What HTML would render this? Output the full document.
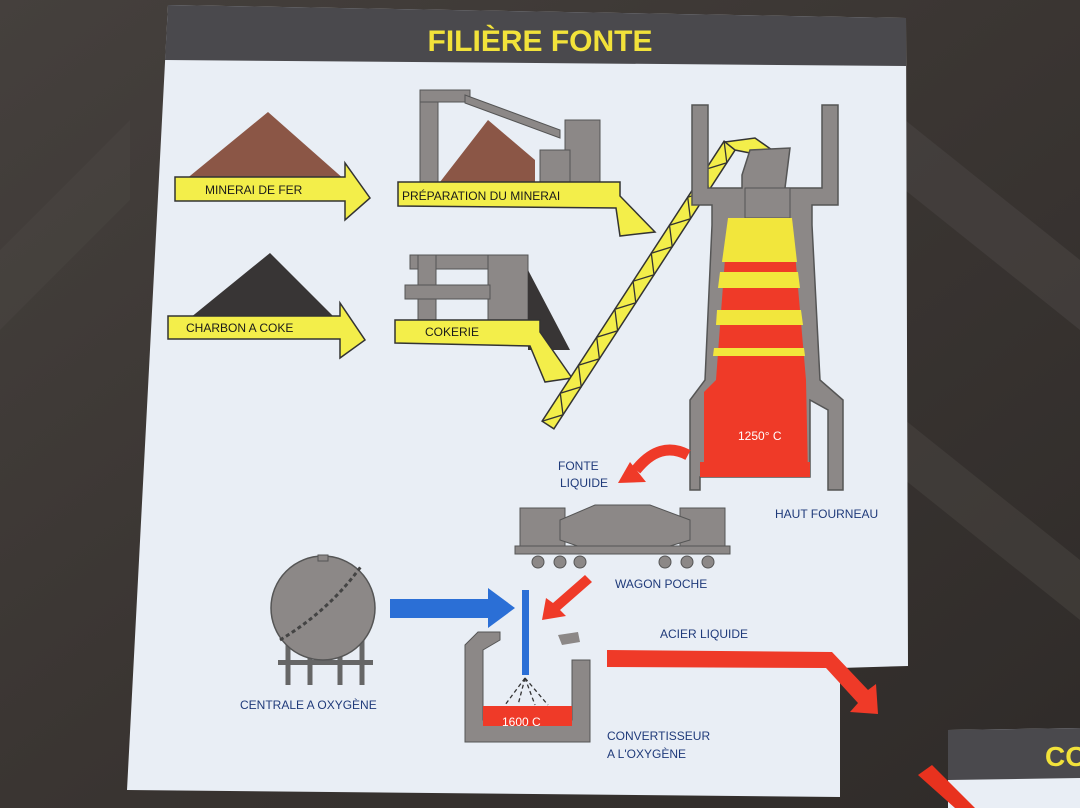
<!DOCTYPE html>
<html><head><meta charset="utf-8"><style>
html,body{margin:0;padding:0;background:#3b3735;}
svg{display:block}
text{font-family:"Liberation Sans",sans-serif;}
</style></head><body>
<svg width="1080" height="808" viewBox="0 0 1080 808" xmlns="http://www.w3.org/2000/svg">
<defs>
<linearGradient id="bg" x1="0" y1="0" x2="1" y2="1">
<stop offset="0" stop-color="#45403d"/><stop offset="0.5" stop-color="#3a3532"/><stop offset="1" stop-color="#2f2b29"/>
</linearGradient>
</defs>
<rect width="1080" height="808" fill="url(#bg)"/>
<path d="M905 120 L1080 260 L1080 330 L905 190 Z" fill="#4a4542" opacity="0.6"/>
<path d="M0 250 L130 120 L130 200 L0 330 Z" fill="#4a4542" opacity="0.5"/>
<path d="M905 420 L1080 560 L1080 620 L905 480 Z" fill="#4a4542" opacity="0.5"/>
<!-- panel -->
<polygon points="168,5 906,18 908,666 840,668 840,797 127,790" fill="#e9eef5"/>
<polygon points="168,5 906,18 906,66 165,60" fill="#4a494d"/>
<text x="540" y="51" font-size="30" font-weight="bold" fill="#f2e23a" text-anchor="middle">FILIÈRE FONTE</text>
<!-- right bottom panel -->
<polygon points="948,730 1080,728 1080,808 948,808" fill="#e9eef5"/>
<polygon points="948,730 1080,728 1080,778 948,780" fill="#4a494d"/>
<text x="1045" y="766" font-size="28" font-weight="bold" fill="#f2e23a">CO</text>
<polygon points="918,775 932,765 975,808 955,808" fill="#e8321e"/>

<!-- mineral pile -->
<polygon points="185,180 268,112 345,180" fill="#8b5646"/>
<polygon points="175,177 345,177 345,163 370,198 345,220 345,201 175,201" fill="#f3ee4a" stroke="#333" stroke-width="1.5"/>
<text x="205" y="194" font-size="12" fill="#1a1a1a">MINERAI DE FER</text>
<!-- charbon -->
<polygon points="190,318 270,253 335,318" fill="#383535"/>
<polygon points="168,316 340,316 340,303 365,340 340,358 340,339 168,339" fill="#f3ee4a" stroke="#333" stroke-width="1.5"/>
<text x="186" y="332" font-size="12" fill="#1a1a1a">CHARBON A COKE</text>
<!-- preparation building -->
<rect x="420" y="92" width="18" height="90" fill="#8c8887" stroke="#555"/>
<rect x="420" y="90" width="50" height="12" fill="#8c8887" stroke="#555"/>
<polygon points="465,95 560,130 560,138 465,103" fill="#8c8887" stroke="#555"/>
<rect x="565" y="120" width="35" height="65" fill="#8c8887" stroke="#555"/>
<rect x="540" y="150" width="30" height="35" fill="#8c8887" stroke="#555"/>
<polygon points="440,182 488,120 535,160 535,182" fill="#8b5646"/>
<polygon points="398,182 620,182 620,196 655,232 620,236 616,208 398,206" fill="#f3ee4a" stroke="#333" stroke-width="1.5"/>
<text x="402" y="200" font-size="12" fill="#1a1a1a">PRÉPARATION DU MINERAI</text>
<!-- cokerie -->
<rect x="410" y="255" width="118" height="14" fill="#8c8887" stroke="#555"/>
<rect x="418" y="255" width="18" height="65" fill="#8c8887" stroke="#555"/>
<rect x="488" y="255" width="40" height="65" fill="#8c8887" stroke="#555"/>
<rect x="405" y="285" width="85" height="14" fill="#8c8887" stroke="#555"/>
<polygon points="528,270 570,350 528,350" fill="#383535"/>
<polygon points="395,320 540,320 540,332 572,378 545,382 530,346 395,343" fill="#f3ee4a" stroke="#333" stroke-width="1.5"/>
<text x="425" y="336" font-size="12" fill="#1a1a1a">COKERIE</text>
<!-- conveyor -->
<polygon points="542.1,421.2 724.1,141.2 735.9,148.8 553.9,428.8" fill="#f3ee4a" stroke="#333" stroke-width="1.5"/>
<polyline points="542.1,421.2 563,414.8 560.3,393.2 581.2,386.8 578.5,365.2 599.4,358.8 596.7,337.2 617.6,330.8 614.9,309.2 635.8,302.8 633.1,281.2 654,274.8 651.3,253.2 672.2,246.8 669.5,225.2 690.4,218.8 687.7,197.2 708.6,190.8 705.9,169.2 726.8,162.8 724.1,141.2" fill="none" stroke="#333" stroke-width="1.3"/>
<polygon points="725,142 755,138 772,150 760,155 735,150" fill="#f3ee4a" stroke="#333" stroke-width="1.5"/>
<!-- furnace -->
<polygon points="692,105 708,105 708,188 742,188 742,175 750,150 790,148 785,188 822,188 822,105 838,105 838,205 812,205 812,225 820,380 843,400 843,490 828,490 828,410 810,400 810,477 700,477 700,490 690,490 690,400 705,380 712,225 712,205 692,205" fill="#8c8887" stroke="#555" stroke-width="1.5"/>
<rect x="745" y="188" width="45" height="30" fill="#8c8887" stroke="#555"/>
<polygon points="728,218 792,218 806,380 808,476 704,476 704,392 716,380" fill="#ef3a28"/>
<polygon points="728,218 792,218 797,262 722,262" fill="#f2e63c"/>
<polygon points="720,272 798,272 800,288 718,288" fill="#f2e63c"/>
<polygon points="717,310 801,310 803,325 716,325" fill="#f2e63c"/>
<polygon points="714,348 804,348 805,356 713,356" fill="#f2e63c"/>
<rect x="700" y="462" width="110" height="15" fill="#ef3a28"/>
<text x="738" y="440" font-size="12" fill="#fff">1250° C</text>
<text x="775" y="518" font-size="12" fill="#1f3a7a">HAUT FOURNEAU</text>
<!-- red curved arrow -->
<path d="M688 455 Q660 440 636 470" fill="none" stroke="#ef3a28" stroke-width="11"/>
<polygon points="618,483 646,482 630,462" fill="#ef3a28"/>
<text x="558" y="470" font-size="12" fill="#1f3a7a">FONTE</text>
<text x="560" y="487" font-size="12" fill="#1f3a7a">LIQUIDE</text>
<!-- wagon -->
<rect x="520" y="508" width="45" height="40" fill="#8c8887" stroke="#555"/>
<rect x="680" y="508" width="45" height="40" fill="#8c8887" stroke="#555"/>
<polygon points="560,520 595,505 650,505 690,520 690,540 650,552 595,552 560,540" fill="#8c8887" stroke="#555"/>
<rect x="515" y="546" width="215" height="8" fill="#8c8887" stroke="#555"/>
<circle cx="538" cy="562" r="6" fill="#8c8887" stroke="#555"/>
<circle cx="560" cy="562" r="6" fill="#8c8887" stroke="#555"/>
<circle cx="580" cy="562" r="6" fill="#8c8887" stroke="#555"/>
<circle cx="665" cy="562" r="6" fill="#8c8887" stroke="#555"/>
<circle cx="687" cy="562" r="6" fill="#8c8887" stroke="#555"/>
<circle cx="708" cy="562" r="6" fill="#8c8887" stroke="#555"/>
<text x="615" y="588" font-size="12" fill="#1f3a7a">WAGON POCHE</text>
<!-- sphere -->
<line x1="288" y1="640" x2="288" y2="685" stroke="#666" stroke-width="5"/>
<line x1="310" y1="650" x2="310" y2="685" stroke="#666" stroke-width="5"/>
<line x1="340" y1="650" x2="340" y2="685" stroke="#666" stroke-width="5"/>
<line x1="362" y1="640" x2="362" y2="685" stroke="#666" stroke-width="5"/>
<rect x="278" y="660" width="95" height="5" fill="#666"/>
<circle cx="323" cy="608" r="52" fill="#8c8887" stroke="#555" stroke-width="1.5"/>
<path d="M280 640 Q330 610 362 565" fill="none" stroke="#444" stroke-width="3" stroke-dasharray="4 3"/>
<rect x="318" y="555" width="10" height="6" fill="#8c8887" stroke="#555"/>
<text x="240" y="709" font-size="12" fill="#1f3a7a">CENTRALE A OXYGÈNE</text>
<!-- blue arrow -->
<polygon points="390,599 488,599 488,588 515,608 488,628 488,618 390,618" fill="#2b6fd6"/>
<rect x="522" y="590" width="7" height="85" fill="#2b6fd6"/>
<!-- red small arrow -->
<polygon points="585,575 592,582 560,610 566,616 542,620 546,598 553,603" fill="#ef3a28"/>
<polygon points="558,635 578,632 580,642 562,645" fill="#8c8887"/>
<!-- converter -->
<path d="M478 632 L500 632 L500 640 L483 650 L483 720 L572 720 L572 660 L590 660 L590 742 L465 742 L465 645 Z" fill="#8c8887" stroke="#555"/>
<rect x="483" y="706" width="89" height="20" fill="#ef3a28"/>
<text x="502" y="726" font-size="12" fill="#fff">1600  C</text>
<g stroke="#333" stroke-width="1.3" stroke-dasharray="4 3">
<line x1="525" y1="678" x2="505" y2="705"/><line x1="525" y1="678" x2="518" y2="705"/><line x1="525" y1="678" x2="535" y2="705"/><line x1="525" y1="678" x2="548" y2="705"/>
</g>
<text x="607" y="740" font-size="12" fill="#1f3a7a">CONVERTISSEUR</text>
<text x="607" y="758" font-size="12" fill="#1f3a7a">A L'OXYGÈNE</text>
<!-- acier liquide arrow -->
<text x="660" y="638" font-size="12" fill="#1f3a7a">ACIER LIQUIDE</text>
<polygon points="607,650 832,652 868,690 876,684 878,714 850,712 858,703 826,668 607,667" fill="#ef3a28"/>
</svg>
</body></html>
